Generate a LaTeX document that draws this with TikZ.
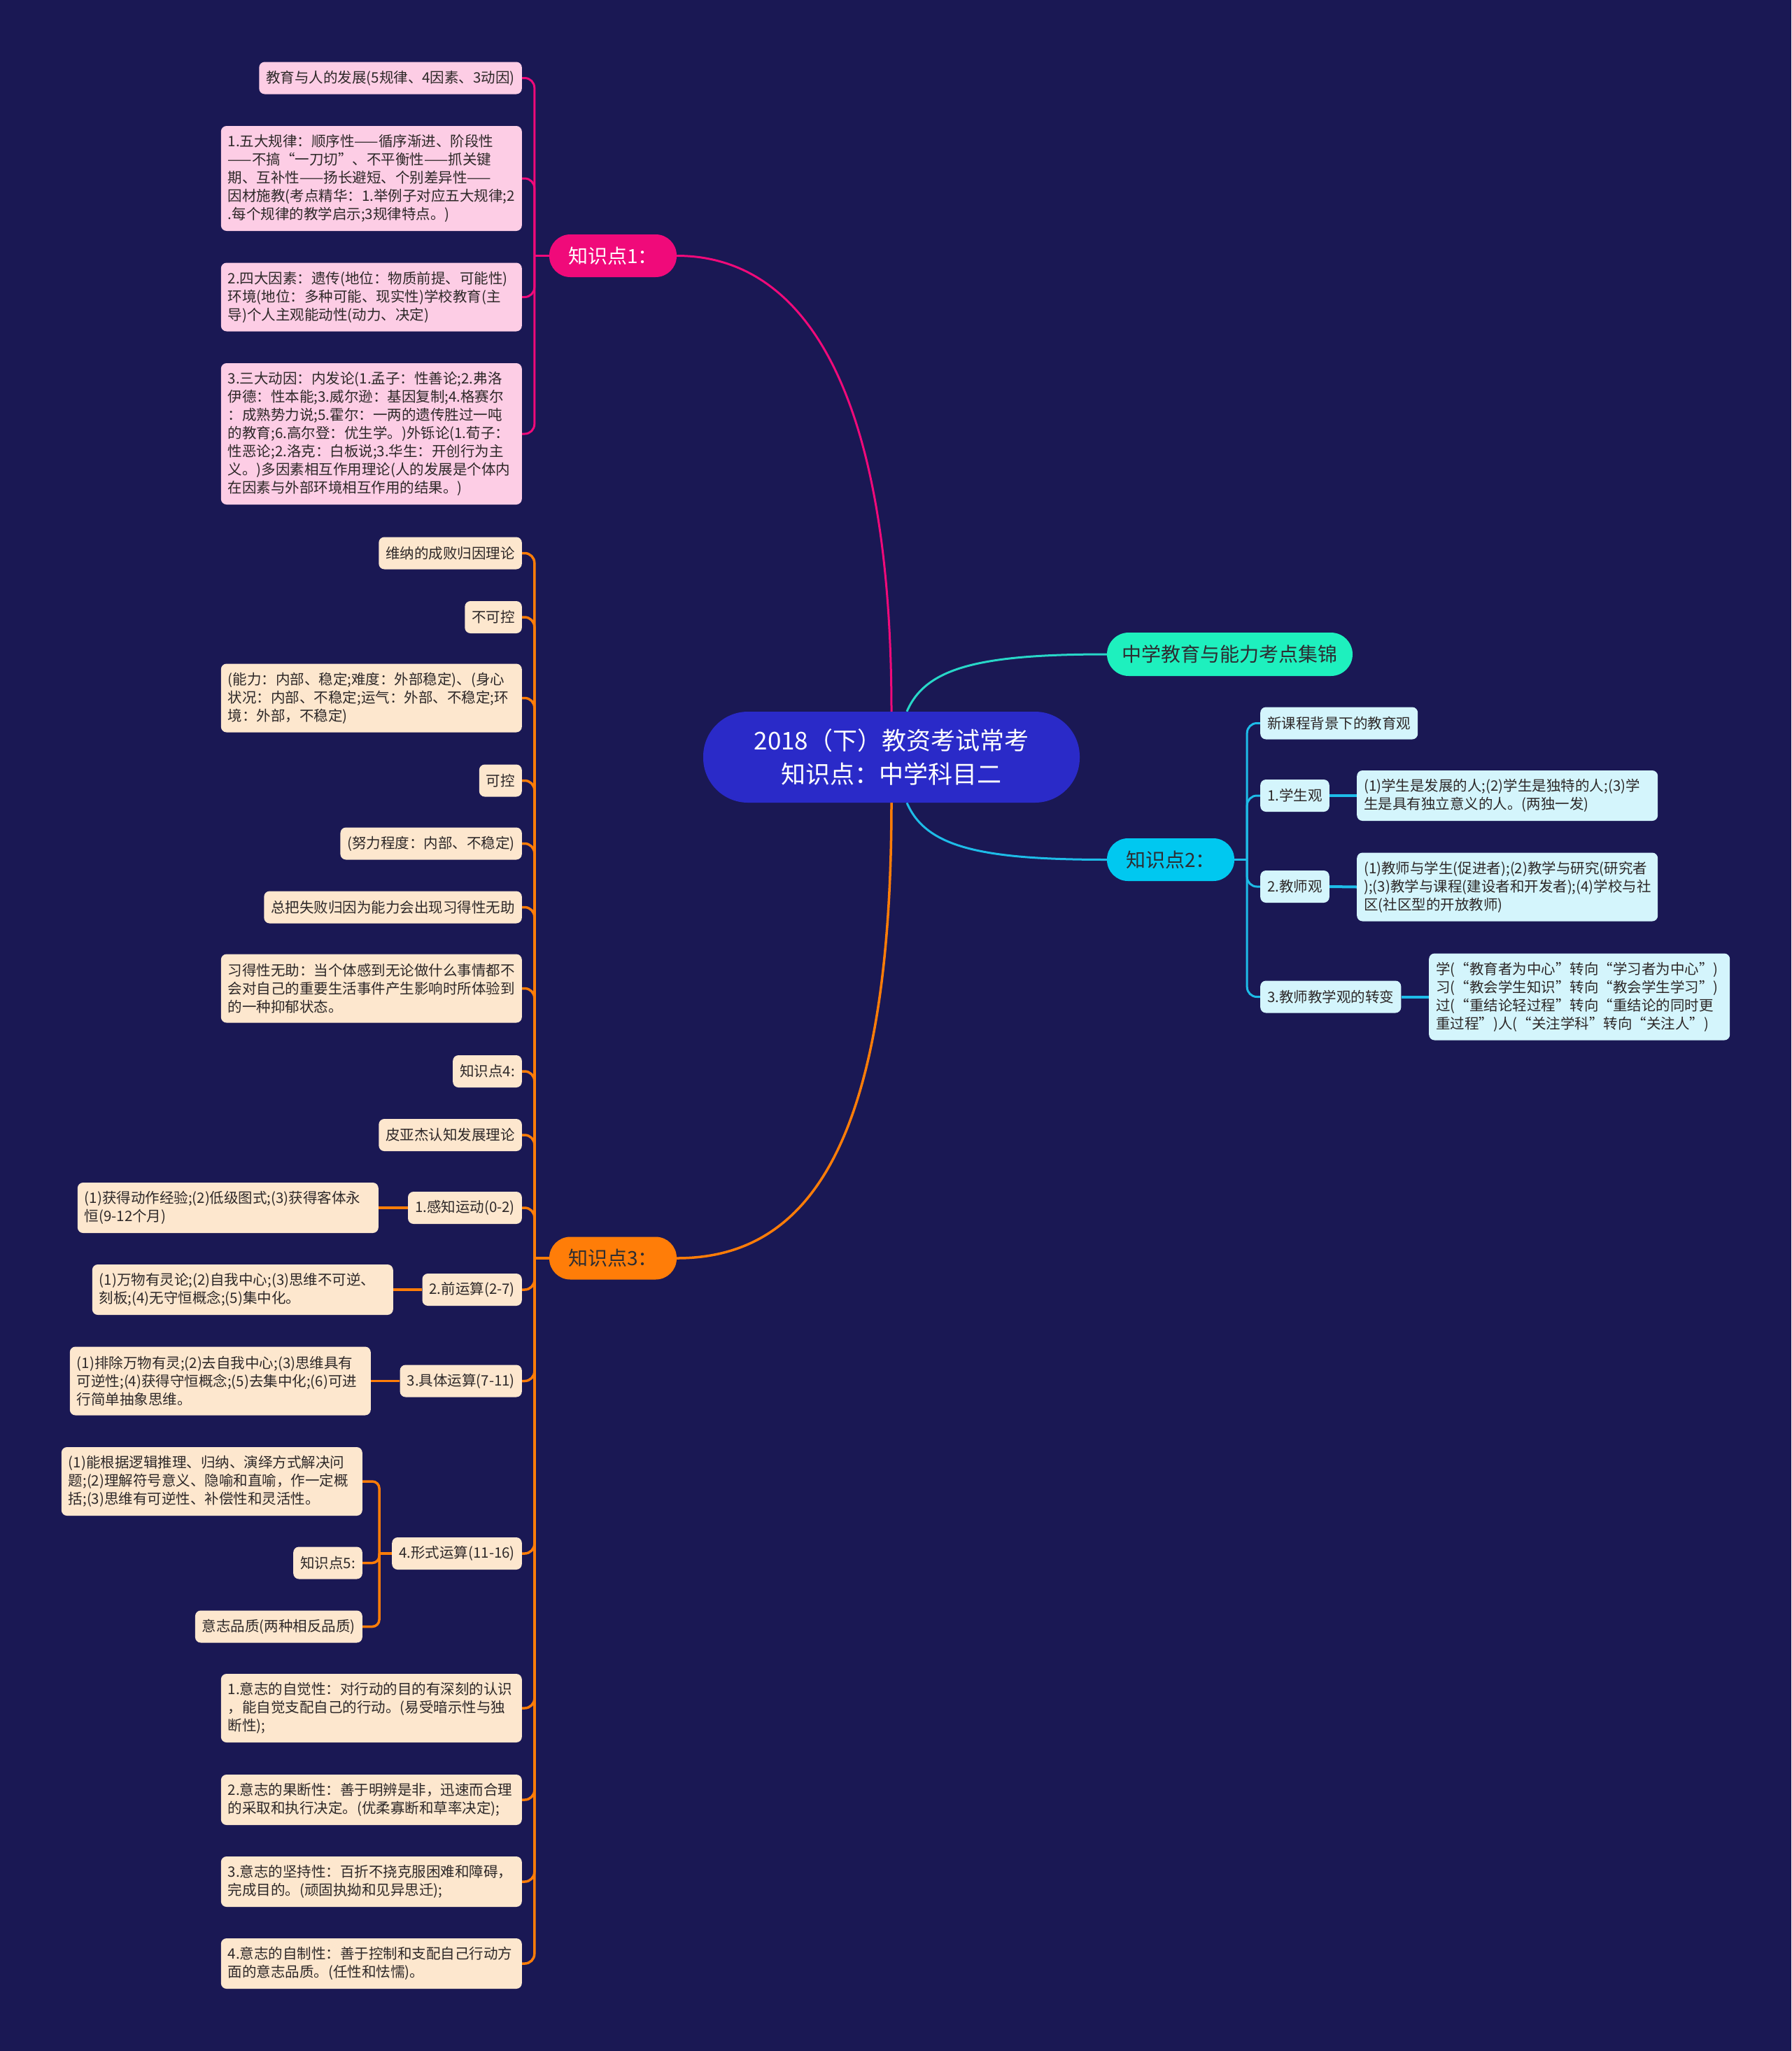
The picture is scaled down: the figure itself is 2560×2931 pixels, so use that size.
\documentclass[tikz,border=0pt]{standalone}
\usepackage{fontspec}
\setmainfont{Noto Sans CJK SC}
\usetikzlibrary{calc}
\pgfdeclarelayer{bg}
\pgfsetlayers{bg,main}
\definecolor{bgc}{RGB}{26,24,84}
\definecolor{ctrc}{RGB}{42,42,200}
\definecolor{pinkc}{RGB}{240,10,122}
\definecolor{orangec}{RGB}{255,125,8}
\definecolor{cyanc}{RGB}{0,200,240}
\definecolor{cyanl}{RGB}{30,188,232}
\definecolor{tealc}{RGB}{30,240,190}
\definecolor{teall}{RGB}{40,215,200}
\definecolor{pinkleaf}{RGB}{253,205,229}
\definecolor{peach}{RGB}{253,231,206}
\definecolor{cyanleaf}{RGB}{212,245,252}
\definecolor{leaftxt}{RGB}{45,40,40}
\definecolor{darktxt}{RGB}{45,45,50}
\begin{document}
\begin{tikzpicture}[x=1pt,y=-1pt,
  leaf/.style={rounded corners=8pt, inner xsep=10pt, inner ysep=0pt, minimum height=46pt,
    font=\fontsize{20.5}{26}\selectfont, align=left, text=leaftxt},
  pk/.style={leaf, fill=pinkleaf, anchor=east},
  ok/.style={leaf, fill=peach, anchor=east},
  ck/.style={leaf, fill=cyanleaf, anchor=west},
  wide/.style={text width=410pt},
  nl/.style={minimum height=26*#1+20},
  topn/.style={rounded corners=30pt, minimum width=182pt, minimum height=61pt, inner sep=0pt,
    font=\fontsize{28}{34}\selectfont},
  pinkline/.style={draw=pinkc, line width=3pt},
  orline/.style={draw=orangec, line width=3.5pt},
  cyline/.style={draw=cyanl, line width=3pt},
  tealline/.style={draw=teall, line width=3pt},
  elbow/.style={rounded corners=14pt}
]
\begin{pgfonlayer}{bg}
\fill[bgc] (0,0) rectangle (2560,2931);
\end{pgfonlayer}
\useasboundingbox (0,0) rectangle (2560,2931);

% central and first level
\node[rounded corners=64pt, fill=ctrc, text=white, minimum width=538pt, minimum height=130pt,
  inner sep=0pt, align=center, font=\fontsize{35}{48}\selectfont] (ctr) at (1274,1082)
  {2018（下）教资考试常考\\知识点：中学科目二};
\node[topn, fill=pinkc, text=white] (k1) at (876,365.5) {知识点1：};
\node[topn, fill=orangec, text=darktxt] (k3) at (876,1798) {知识点3：};
\node[topn, fill=cyanc, text=darktxt] (k2) at (1673,1228.5) {知识点2：};
\node[topn, fill=tealc, text=darktxt, minimum width=351pt, minimum height=62pt, rounded corners=31pt] (t) at (1757.5,935) {中学教育与能力考点集锦};

% knowledge point 1 (pink)
\node[pk] (p0) at (746,111.5) {教育与人的发展(5规律、4因素、3动因)};
\node[pk, wide, nl=5] (p1) at (746,255) {1.五大规律：顺序性——循序渐进、阶段性\\——不搞“一刀切”、不平衡性——抓关键\\期、互补性——扬长避短、个别差异性——\\因材施教(考点精华：1.举例子对应五大规律;2\\.每个规律的教学启示;3规律特点。)};
\node[pk, wide, nl=3] (p2) at (746,424.5) {2.四大因素：遗传(地位：物质前提、可能性)\\环境(地位：多种可能、现实性)学校教育(主\\导)个人主观能动性(动力、决定)};
\node[pk, wide, nl=7] (p3) at (746,620) {3.三大动因：内发论(1.孟子：性善论;2.弗洛\\伊德：性本能;3.威尔逊：基因复制;4.格赛尔\\：成熟势力说;5.霍尔：一两的遗传胜过一吨\\的教育;6.高尔登：优生学。)外铄论(1.荀子：\\性恶论;2.洛克：白板说;3.华生：开创行为主\\义。)多因素相互作用理论(人的发展是个体内\\在因素与外部环境相互作用的结果。)};

% knowledge point 3 (orange)
\node[ok] (o1) at (746,790.5) {维纳的成败归因理论};
\node[ok] (o2) at (746,882) {不可控};
\node[ok, wide, nl=3] (o3) at (746,997.5) {(能力：内部、稳定;难度：外部稳定)、(身心\\状况：内部、不稳定;运气：外部、不稳定;环\\境：外部，不稳定)};
\node[ok] (o4) at (746,1115.5) {可控};
\node[ok] (o5) at (746,1205.5) {(努力程度：内部、不稳定)};
\node[ok] (o6) at (746,1296.5) {总把失败归因为能力会出现习得性无助};
\node[ok, wide, nl=3] (o7) at (746,1412.5) {习得性无助：当个体感到无论做什么事情都不\\会对自己的重要生活事件产生影响时所体验到\\的一种抑郁状态。};
\node[ok] (o8) at (746,1531) {知识点4:};
\node[ok] (o9) at (746,1622) {皮亚杰认知发展理论};
\node[ok] (o10) at (746,1726) {1.感知运动(0-2)};
\node[ok, wide, nl=2] (o10c) at (541,1726) {(1)获得动作经验;(2)低级图式;(3)获得客体永\\恒(9-12个月)};
\node[ok] (o11) at (746,1843) {2.前运算(2-7)};
\node[ok, wide, nl=2] (o11c) at (562,1843) {(1)万物有灵论;(2)自我中心;(3)思维不可逆、\\刻板;(4)无守恒概念;(5)集中化。};
\node[ok] (o12) at (746,1973.5) {3.具体运算(7-11)};
\node[ok, wide, nl=3] (o12c) at (530,1973.5) {(1)排除万物有灵;(2)去自我中心;(3)思维具有\\可逆性;(4)获得守恒概念;(5)去集中化;(6)可进\\行简单抽象思维。};
\node[ok] (o13) at (746,2220) {4.形式运算(11-16)};
\node[ok, wide, nl=3] (m1) at (518,2117) {(1)能根据逻辑推理、归纳、演绎方式解决问\\题;(2)理解符号意义、隐喻和直喻，作一定概\\括;(3)思维有可逆性、补偿性和灵活性。};
\node[ok] (m2) at (518,2233.5) {知识点5:};
\node[ok] (m3) at (518,2324.5) {意志品质(两种相反品质)};
\node[ok, wide, nl=3] (o14) at (746,2441) {1.意志的自觉性：对行动的目的有深刻的认识\\，能自觉支配自己的行动。(易受暗示性与独\\断性);};
\node[ok, wide, nl=2] (o15) at (746,2572) {2.意志的果断性：善于明辨是非，迅速而合理\\的采取和执行决定。(优柔寡断和草率决定);};
\node[ok, wide, nl=2] (o16) at (746,2689) {3.意志的坚持性：百折不挠克服困难和障碍，\\完成目的。(顽固执拗和见异思迁);};
\node[ok, wide, nl=2] (o17) at (746,2806) {4.意志的自制性：善于控制和支配自己行动方\\面的意志品质。(任性和怯懦)。};

% knowledge point 2 (cyan)
\node[ck] (r0) at (1801,1033.5) {新课程背景下的教育观};
\node[ck] (r1) at (1801,1137) {1.学生观};
\node[ck, wide, nl=2] (r1c) at (1939,1137) {(1)学生是发展的人;(2)学生是独特的人;(3)学\\生是具有独立意义的人。(两独一发)};
\node[ck] (r2) at (1801,1267) {2.教师观};
\node[ck, wide, nl=3] (r2c) at (1939,1267.5) {(1)教师与学生(促进者);(2)教学与研究(研究者\\);(3)教学与课程(建设者和开发者);(4)学校与社\\区(社区型的开放教师)};
\node[ck] (r3) at (1801,1424.5) {3.教师教学观的转变};
\node[ck, wide, nl=4] (r3c) at (2042,1424.5) {学(“教育者为中心”转向“学习者为中心”)\\习(“教会学生知识”转向“教会学生学习”)\\过(“重结论轻过程”转向“重结论的同时更\\重过程”)人(“关注学科”转向“关注人”)};

\coordinate (s1) at ([xshift=-21pt]k1.west);
\coordinate (s3) at ([xshift=-21pt]k3.west);
\coordinate (s2) at ([xshift=18pt]k2.east);
\coordinate (sm) at ([xshift=-18pt]o13.west);

\begin{pgfonlayer}{bg}
% main branches
\draw[pinkline] (ctr.north) .. controls +(0,-457) and +(183,0) .. (k1.east);
\draw[orline] (ctr.south) .. controls +(0,497) and +(183,0) .. (k3.east);
\draw[tealline] ([xshift=22pt]ctr.north) .. controls +(27,-63) and +(-182,0) .. (t.west);
\draw[cyline] ([xshift=22pt]ctr.south) .. controls +(27,63) and +(-182,0) .. (k2.west);
% pink children
\draw[pinkline] (k1.west) -- (s1);
\foreach \c in {p0,p1,p2,p3} \draw[pinkline, elbow] (s1) |- (\c.east);
% orange children
\draw[orline] (k3.west) -- (s3);
\foreach \c in {o1,o2,o3,o4,o5,o6,o7,o8,o9,o10,o11,o12,o13,o14,o15,o16,o17}
  \draw[orline, elbow] (s3) |- (\c.east);
\draw[orline] (o10.west) -- (o10c.east);
\draw[orline] (o11.west) -- (o11c.east);
\draw[orline] (o12.west) -- (o12c.east);
\draw[orline] (o13.west) -- (sm);
\foreach \c in {m1,m2,m3} \draw[orline, rounded corners=10pt] (sm) |- (\c.east);
% cyan children
\draw[cyline] (k2.east) -- (s2);
\foreach \c in {r0,r1,r2,r3} \draw[cyline, elbow] (s2) |- (\c.west);
\draw[cyline, line width=4pt] (r1.east) -- (r1c.west);
\draw[cyline, line width=4pt] (r2.east) -- (r2c.west);
\draw[cyline, line width=4pt] (r3.east) -- (r3c.west);
\end{pgfonlayer}
\end{tikzpicture}
\end{document}
